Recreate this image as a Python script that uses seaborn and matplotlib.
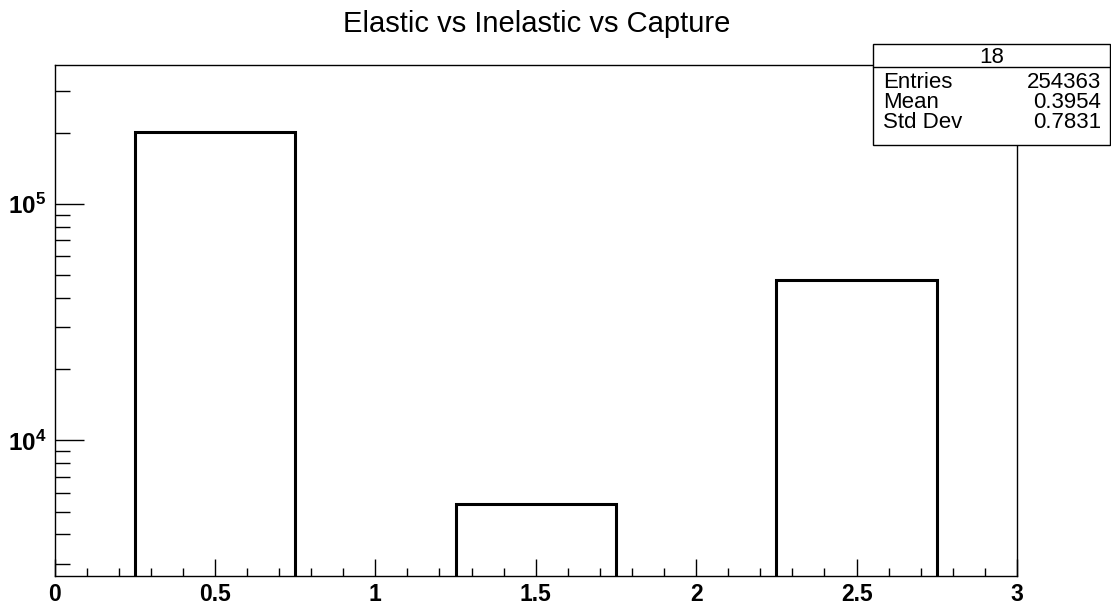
import numpy as np
import pandas as pd
import matplotlib
matplotlib.use("Agg")
import matplotlib.pyplot as plt
from matplotlib.ticker import FixedLocator, FixedFormatter, LogLocator, NullFormatter, MultipleLocator
from matplotlib.patches import Rectangle
from matplotlib.lines import Line2D
import seaborn as sns

# ---- data ----
bin_centers = [0.5, 1.5, 2.5]
counts = [201000, 5360, 47600]
bin_edges = [0.25, 0.75, 1.25, 1.75, 2.25, 2.75]
title = "Elastic vs Inelastic vs Capture"
x_tick_values = [0, 0.5, 1, 1.5, 2, 2.5, 3]
x_tick_labels = ["0", "0.5", "1", "1.5", "2", "2.5", "3"]
y_tick_values = [1e4, 1e5]
y_tick_labels = [r"$\mathbf{10^{4}}$", r"$\mathbf{10^{5}}$"]
stats_name = "18"
stats_rows = [("Entries", "254363"), ("Mean", "0.3954"), ("Std Dev", "0.7831")]

sns.set_style("ticks")
plt.rcParams["font.family"] = ["Liberation Sans", "DejaVu Sans"]
plt.rcParams["mathtext.fontset"] = "custom"
plt.rcParams["mathtext.rm"] = "Liberation Sans"
plt.rcParams["mathtext.bf"] = "Liberation Sans:bold"
plt.rcParams["text.color"] = "black"
plt.rcParams["xtick.color"] = "black"
plt.rcParams["ytick.color"] = "black"
plt.rcParams["xtick.labelcolor"] = "black"
plt.rcParams["ytick.labelcolor"] = "black"

PT = 0.72  # points per pixel at dpi 100

W, H = 1111, 605
fig = plt.figure(figsize=(W / 100, H / 100), dpi=100)
ax = fig.add_axes([54.5 / W, 1 - 576 / H, (1017 - 54.5) / W, (576 - 65) / H])

df = pd.DataFrame({"x": bin_centers, "w": counts})
sns.histplot(data=df, x="x", weights="w", bins=bin_edges, fill=False,
             element="bars", color="black", edgecolor="black", linewidth=2.2, ax=ax)

ax.set_yscale("log")
ax.set_xlim(0, 3)
ax.set_ylim(2670, 3.86e5)
ax.set_xlabel("")
ax.set_ylabel("")

for s in ax.spines.values():
    s.set_visible(True)
    s.set_linewidth(1.0)
    s.set_color("black")

ax.xaxis.set_major_locator(FixedLocator(x_tick_values))
ax.xaxis.set_major_formatter(FixedFormatter(x_tick_labels))
ax.xaxis.set_minor_locator(MultipleLocator(0.1))
ax.yaxis.set_major_locator(FixedLocator(y_tick_values))
ax.yaxis.set_major_formatter(FixedFormatter(y_tick_labels))
ax.yaxis.set_minor_locator(LogLocator(base=10, subs=np.arange(2, 10)))
ax.yaxis.set_minor_formatter(NullFormatter())

ax.tick_params(axis="x", which="major", direction="in", length=17 * PT, width=1,
               labelsize=16.5, pad=5, top=False)
ax.tick_params(axis="x", which="minor", direction="in", length=8 * PT, width=1, top=False)
ax.tick_params(axis="y", which="major", direction="in", length=29 * PT, width=1,
               labelsize=17.5, pad=6, right=False)
ax.tick_params(axis="y", which="minor", direction="in", length=15 * PT, width=1, right=False)
for lab in ax.get_xticklabels():
    lab.set_fontweight("bold")

fig.text(537 / W, 1 - 31.7 / H, title, ha="center", va="baseline", fontsize=21)

# stats box
bx0, bx1, by0, by1 = 873, 1110, 44, 145
hdr = 67
fig.patches.append(Rectangle((bx0 / W, 1 - by1 / H), (bx1 - bx0) / W, (by1 - by0) / H,
                             transform=fig.transFigure, facecolor="white",
                             edgecolor="black", linewidth=1, zorder=5))
fig.lines.append(Line2D([bx0 / W, bx1 / W], [1 - hdr / H, 1 - hdr / H],
                        transform=fig.transFigure, color="black", linewidth=1, zorder=6))
fig.text((bx0 + bx1) / 2 / W, 1 - 63 / H, stats_name, ha="center", va="baseline",
         fontsize=16, zorder=7)
row_base = [88, 108, 128]
for (k, v), yy in zip(stats_rows, row_base):
    fig.text(883 / W, 1 - yy / H, k, ha="left", va="baseline", fontsize=16, zorder=7)
    fig.text(1101 / W, 1 - yy / H, v, ha="right", va="baseline", fontsize=16, zorder=7)

fig.savefig("out.png", dpi=100)
